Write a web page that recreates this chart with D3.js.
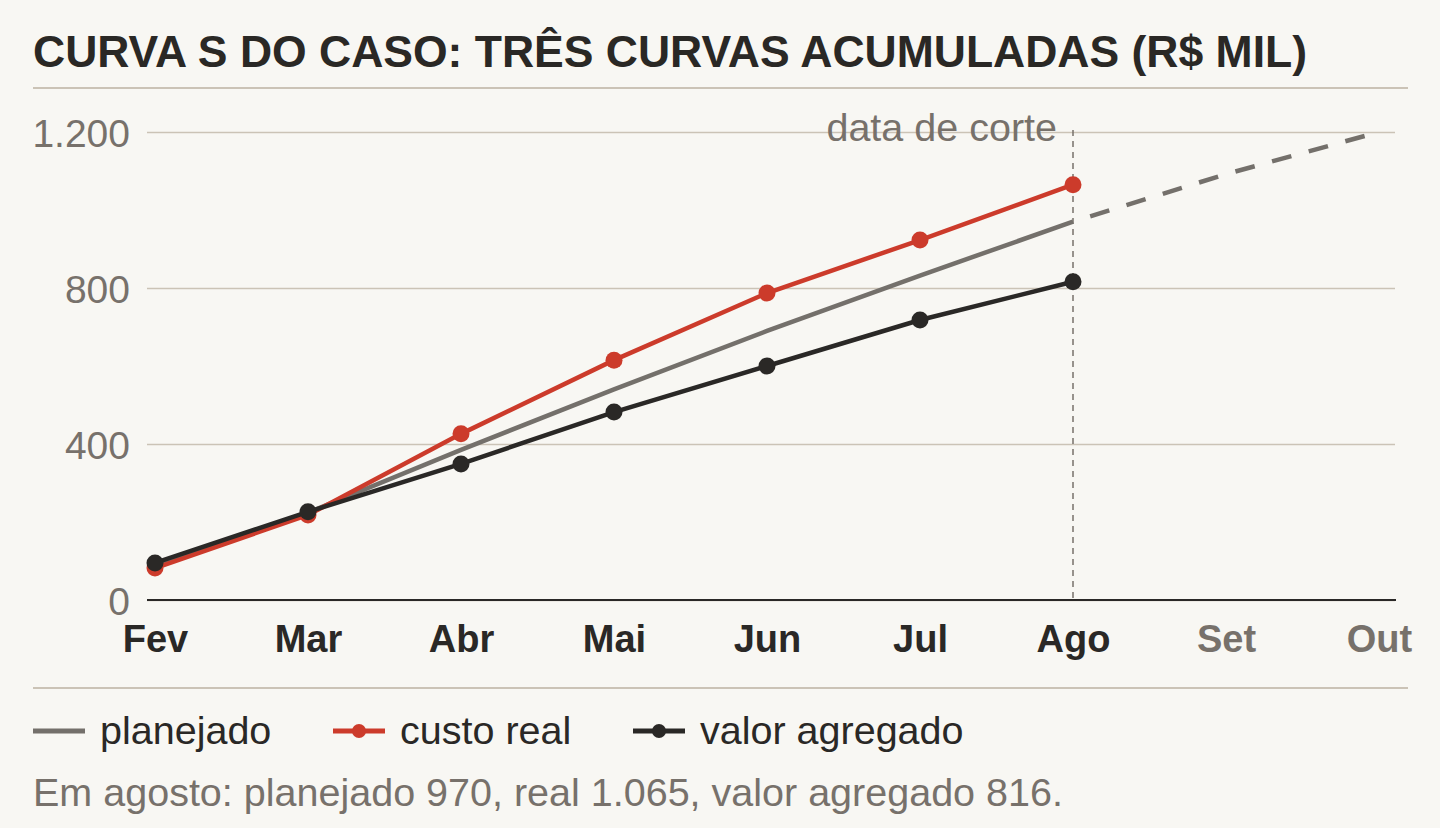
<!DOCTYPE html>
<html>
<head>
<meta charset="utf-8">
<script src="https://cdn.jsdelivr.net/npm/d3@7"></script>
<style>
  html, body { margin: 0; padding: 0; background: #f8f7f3; }
  svg { display: block; font-family: "Liberation Sans", Arial, sans-serif; }
</style>
</head>
<body>
<div id="chart"></div>
<script>
const months = ['Fev', 'Mar', 'Abr', 'Mai', 'Jun', 'Jul', 'Ago', 'Set', 'Out'];
const planned = [92, 224, 385, 540, 690, 832, 970, 1092, 1200];
const actualCost = [82, 218, 426, 615, 787, 923, 1065];
const earnedValue = [95, 226, 349, 482, 600, 718, 816];
const yTicks = [0, 400, 800, 1200];
const cutoff = 'Ago';

const W = 1440, H = 828;
const colors = { planned: '#74706b', real: '#cc3b2b', ev: '#2a2826', grid: '#cbc3b6', muted: '#77716b' };

const svg = d3.select('#chart').append('svg').attr('width', W).attr('height', H);

// Scales
const x = d3.scalePoint().domain(months).range([155, 1379]);
const y = d3.scaleLinear().domain([0, 1200]).range([600, 132]);

// Title and rules
svg.append('text').attr('x', 33).attr('y', 67)
  .attr('font-size', 44.5).attr('font-weight', 'bold').attr('fill', '#2a2825')
  .text('CURVA S DO CASO: TRÊS CURVAS ACUMULADAS (R$ MIL)');
svg.append('line').attr('x1', 33).attr('x2', 1408).attr('y1', 88).attr('y2', 88)
  .attr('stroke', colors.grid).attr('stroke-width', 2);
svg.append('line').attr('x1', 33).attr('x2', 1408).attr('y1', 688).attr('y2', 688)
  .attr('stroke', colors.grid).attr('stroke-width', 2);

// Y grid + labels
const yAxis = svg.append('g').attr('transform', 'translate(147,0)')
  .call(d3.axisLeft(y).tickValues(yTicks).tickSize(-1248)
    .tickFormat((d) => d3.format(',')(d).replace(/,/g, '.')));
yAxis.select('.domain').remove();
yAxis.selectAll('.tick line').attr('stroke', colors.grid).attr('stroke-width', 1.5);
yAxis.selectAll('.tick text').attr('x', -17).attr('dy', '0.36em')
  .attr('font-size', 39).attr('fill', colors.muted).attr('font-family', null);

// X axis
const xAxis = svg.append('g').attr('transform', 'translate(0,600)')
  .call(d3.axisBottom(x).tickSize(0).tickPadding(25));
xAxis.select('.domain').remove();
xAxis.selectAll('.tick text').attr('font-size', 38).attr('font-weight', 'bold')
  .attr('font-family', null).attr('dy', '0.71em')
  .attr('fill', (d) => (months.indexOf(d) > months.indexOf(cutoff) ? colors.muted : '#2a2826'));
svg.append('line').attr('x1', 147).attr('x2', 1396).attr('y1', y(0)).attr('y2', y(0))
  .attr('stroke', '#2a2826').attr('stroke-width', 2);

// Cutoff marker
svg.append('line').attr('x1', x(cutoff)).attr('x2', x(cutoff)).attr('y1', y(1200) - 2).attr('y2', y(0))
  .attr('stroke', colors.muted).attr('stroke-width', 1.5).attr('stroke-dasharray', '6,5');
svg.append('text').attr('x', x(cutoff) - 16).attr('y', 141).attr('text-anchor', 'end')
  .attr('font-size', 39.5).attr('fill', colors.muted).text('data de corte');

// Lines
const line = d3.line().x((d) => x(d.m)).y((d) => y(d.v));
const toPts = (arr) => arr.map((v, i) => ({ m: months[i], v }));
const cut = months.indexOf(cutoff);
const plannedPts = toPts(planned);

svg.append('path').datum(plannedPts.slice(0, cut + 1)).attr('d', line)
  .attr('fill', 'none').attr('stroke', colors.planned).attr('stroke-width', 4.5);
svg.append('path').datum(plannedPts.slice(cut)).attr('d', line)
  .attr('fill', 'none').attr('stroke', colors.planned).attr('stroke-width', 4.5)
  .attr('stroke-dasharray', '20,18').attr('stroke-dashoffset', -18);

[[actualCost, colors.real], [earnedValue, colors.ev]].forEach(([arr, c]) => {
  const pts = toPts(arr);
  svg.append('path').datum(pts).attr('d', line)
    .attr('fill', 'none').attr('stroke', c).attr('stroke-width', 4.5);
  svg.selectAll(null).data(pts).enter().append('circle')
    .attr('cx', (d) => x(d.m)).attr('cy', (d) => y(d.v)).attr('r', 8.5).attr('fill', c);
});

// Legend
const legend = [
  { label: 'planejado', color: colors.planned, dot: false, x: 33 },
  { label: 'custo real', color: colors.real, dot: true, x: 333 },
  { label: 'valor agregado', color: colors.ev, dot: true, x: 633 },
];
const lg = svg.selectAll('.lg').data(legend).enter().append('g')
  .attr('transform', (d) => `translate(${d.x},731)`);
lg.append('line').attr('x1', 0).attr('x2', 52).attr('stroke', (d) => d.color).attr('stroke-width', 5);
lg.filter((d) => d.dot).append('circle').attr('cx', 26).attr('r', 7).attr('fill', (d) => d.color);
lg.append('text').attr('x', 67).attr('y', 13).attr('font-size', 39.5).attr('fill', '#2a2826')
  .text((d) => d.label);

// Footnote
svg.append('text').attr('x', 33).attr('y', 806).attr('font-size', 39.5).attr('fill', colors.muted)
  .text(`Em agosto: planejado ${planned[cut]}, real ${d3.format(',')(actualCost[cut]).replace(',', '.')}, valor agregado ${earnedValue[cut]}.`);
</script>
</body>
</html>
